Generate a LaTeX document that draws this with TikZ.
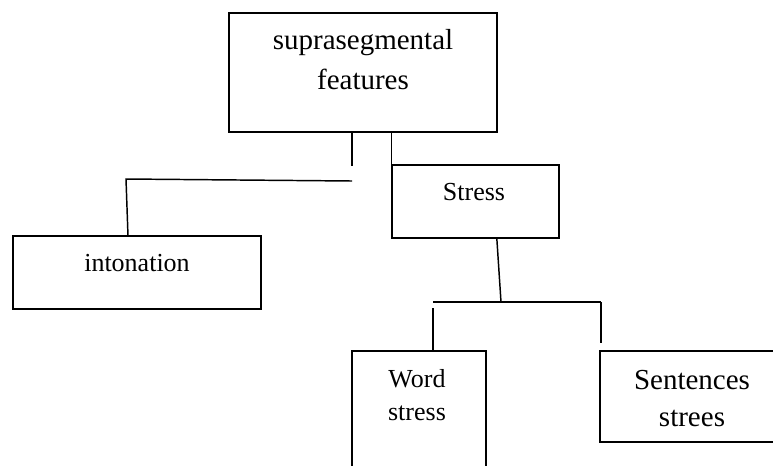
\documentclass[tikz,border=0pt]{standalone}
\usepackage{fontspec}
\setmainfont{Liberation Serif}

\begin{document}
\begin{tikzpicture}[x=0.75pt,y=-0.75pt,line width=1.1pt,
		box/.style={rectangle,draw,inner sep=0pt},
		big label/.style={inner sep=0pt,align=center,font=\fontsize{21.75}{30}\selectfont},
		small label/.style={inner sep=0pt,align=center,font=\fontsize{19.5}{24.75}\selectfont}]

		\useasboundingbox (0,0) rectangle (773,465);
		\clip (0,0) rectangle (773,465);

		% boxes
		\node[box,minimum width=201pt,minimum height=89.25pt] (supra) at (363,72.5) {};
		\node[box,minimum width=125.25pt,minimum height=54.75pt] (stress) at (475.5,201.5) {};
		\node[box,minimum width=186pt,minimum height=54.75pt] (inton) at (137,272.5) {};
		\node[box,minimum width=100.5pt,minimum height=111.75pt] (word) at (419,425.5) {};
		\node[box,minimum width=138pt,minimum height=68.25pt] (sent) at (692,396.5) {};

		% texts
		\node[big label] (supra text) at (363,60) {suprasegmental\\features};
		\node[small label] (stress text) at (474,192) {Stress};
		\node[small label] (inton text) at (137,263) {intonation};
		\node[small label] (word text) at (417,395) {Word\\stress};
		\node[big label,font=\fontsize{21.75}{27.75}\selectfont] (sent text) at (692,399) {Sentences\\strees};

		% free ends
		\coordinate (d1) at (352,166);
		\coordinate (h1) at (352,181);
		\coordinate (h2) at (126,179);
		\coordinate (h3) at (128,236);
		\coordinate (m1) at (501,302);
		\coordinate (b1) at (433,302);
		\coordinate (b2) at (601,302);
		\coordinate (w1) at (433,308);
		\coordinate (s1) at (601,343);

		\draw (d1 |- supra.south) -- (d1);
		\draw (stress.north west |- supra.south) -- (stress.north west);
		\draw (h1) -- (h2) -- (h3);
		\draw ([xshift=16pt]stress.south) -- (m1);
		\draw (b1) -- (b2);
		\draw (w1) -- (w1 |- word.north);
		\draw (b2) -- (s1);
\end{tikzpicture}
\end{document}
